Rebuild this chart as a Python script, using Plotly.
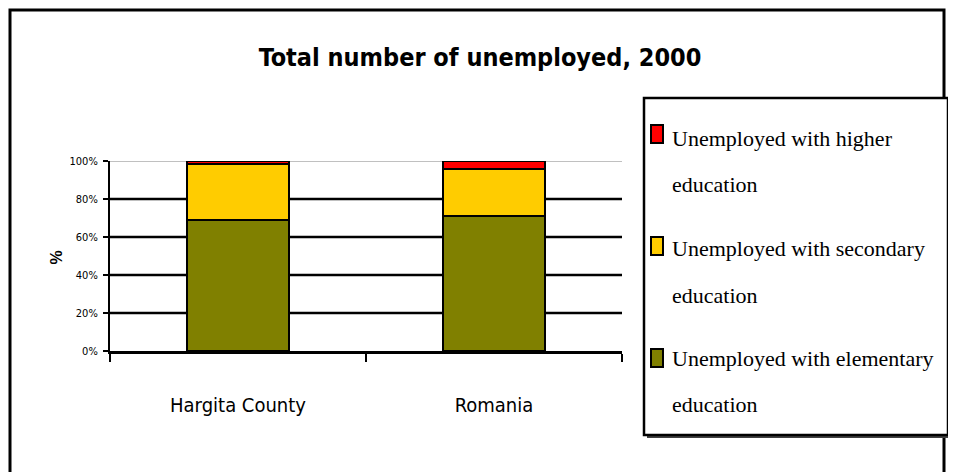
import plotly.graph_objects as go

categories = ["Hargita County", "Romania"]
series_names = [
    "Unemployed with elementary education",
    "Unemployed with secondary education",
    "Unemployed with higher education",
]
elementary = [69.2, 71.2]
secondary = [29.3, 24.6]
higher = [1.5, 4.2]
y_ticks = [0, 20, 40, 60, 80, 100]
y_tick_labels = ["0%", "20%", "40%", "60%", "80%", "100%"]

colors = ["#808000", "#FFCC00", "#FF0000"]
NARROW = "DejaVu Sans Condensed, Liberation Sans Narrow, Arial Narrow, sans-serif"
SERIF = "Liberation Serif, Times New Roman, serif"

OFF = 8  # page body margin offset
W, H = 956 - OFF, 472 - OFF
L, R, T, B = 110 - OFF, 622 - OFF, 161 - OFF, 351 - OFF  # plot area in figure pixels


def px(x):
    return (x - OFF - L) / (R - L)


def py(y):
    return (B - (y - OFF)) / (B - T)


fig = go.Figure()
for name, vals, col in zip(series_names, [elementary, secondary, higher], colors):
    fig.add_trace(go.Bar(
        x=categories, y=vals, name=name, width=0.4,
        marker=dict(color=col, line=dict(color="black", width=2)),
        showlegend=False,
    ))

shapes = []
for v in y_ticks[1:-1]:
    shapes.append(dict(type="line", xref="paper", yref="y", x0=0, x1=1, y0=v, y1=v,
                       line=dict(color="black", width=2.5), layer="below"))
shapes.append(dict(type="line", xref="paper", yref="y", x0=0, x1=1, y0=100, y1=100,
                   line=dict(color="#c0c0c0", width=2), layer="below"))
# outer frame (left, top, right)
shapes.append(dict(type="path", xref="paper", yref="paper",
                   path=f"M {px(10)} {py(480)} L {px(10)} {py(10)} L {px(944)} {py(10)} L {px(944)} {py(480)}",
                   line=dict(color="black", width=3)))
# legend box with slight shadow
shapes.append(dict(type="path", xref="paper", yref="paper",
                   path=f"M {px(647)} {py(437)} L {px(950)} {py(437)} L {px(950)} {py(101)}",
                   line=dict(color="#404040", width=2)))
shapes.append(dict(type="rect", xref="paper", yref="paper",
                   x0=px(644), x1=px(948), y0=py(435), y1=py(98),
                   line=dict(color="black", width=2.5), fillcolor="white"))

annotations = []
legend_items = [
    (colors[2], ["Unemployed with higher", "education"], 134, [138, 184]),
    (colors[1], ["Unemployed with secondary", "education"], 246, [248, 295]),
    (colors[0], ["Unemployed with elementary", "education"], 358, [358, 404]),
]
for col, lines, sq_y, line_ys in legend_items:
    shapes.append(dict(type="rect", xref="paper", yref="paper",
                       x0=px(651), x1=px(663), y0=py(sq_y + 9), y1=py(sq_y - 9),
                       line=dict(color="black", width=2), fillcolor=col))
    for txt, ly in zip(lines, line_ys):
        annotations.append(dict(xref="paper", yref="paper", x=px(670), y=py(ly),
                                xanchor="left", yanchor="middle", showarrow=False,
                                text=txt, font=dict(family=SERIF, size=22, color="black")))

annotations.append(dict(xref="paper", yref="paper", x=px(45), y=py(258), textangle=-90,
                        text="<b>%</b>", showarrow=False,
                        font=dict(family="Liberation Sans, Arial, sans-serif", size=16, color="black")))

fig.update_layout(
    width=W, height=H,
    margin=dict(l=L, r=W - R, t=T, b=H - B, pad=0),
    paper_bgcolor="white", plot_bgcolor="white",
    barmode="stack",
    title=dict(text="<b>Total number of unemployed, 2000</b>", x=(480 - OFF) / W, xanchor="center",
               y=1 - (57 - OFF) / H, yanchor="middle",
               font=dict(family=NARROW, size=25, color="black")),
    xaxis=dict(range=[-0.5, 1.5], tickson="boundaries", ticks="outside", ticklen=8,
               tickwidth=2, tickcolor="black", showline=True, linecolor="black", linewidth=3,
               showgrid=False, ticklabelstandoff=34,
               tickfont=dict(family=NARROW, size=20, color="black")),
    yaxis=dict(range=[0, 100], tickvals=y_ticks, ticktext=y_tick_labels, ticks="outside",
               ticklen=5, tickwidth=2, tickcolor="black", showline=True, linecolor="black",
               linewidth=2, showgrid=False, zeroline=False, ticklabelstandoff=3,
               tickfont=dict(family=NARROW, size=11, color="black")),
    shapes=shapes, annotations=annotations,
)

fig.write_html("out.html")
